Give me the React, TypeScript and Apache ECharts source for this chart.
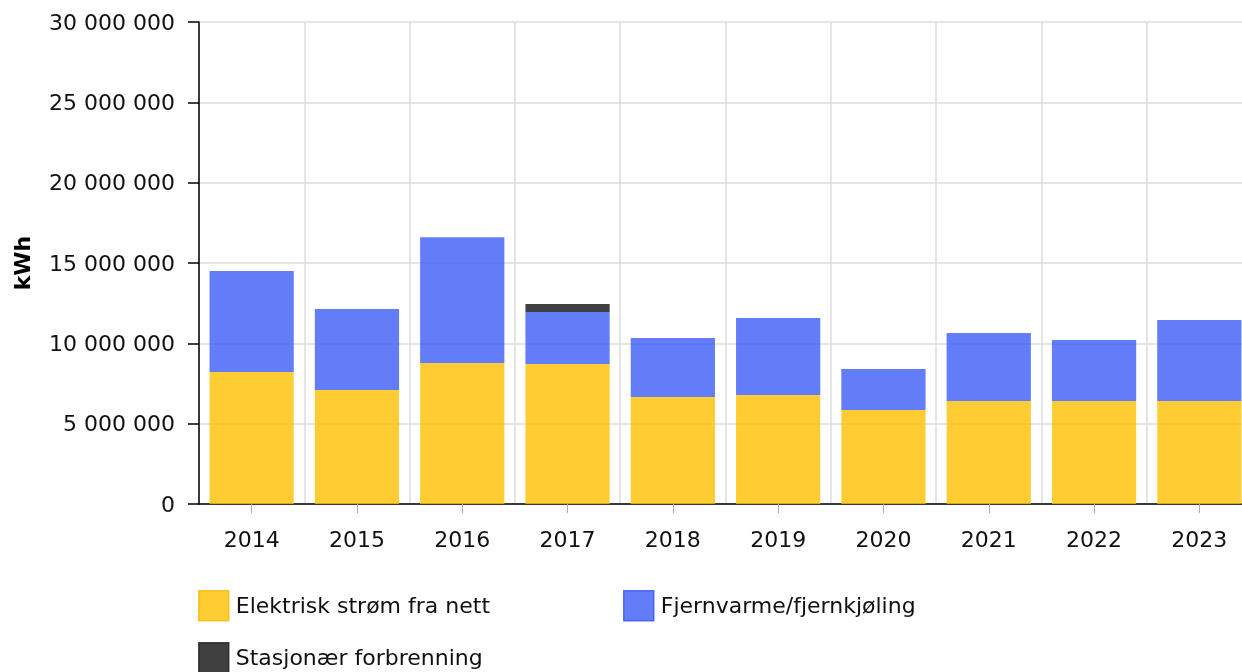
import React, { useEffect, useRef } from "react";
import * as echarts from "echarts";

const years = ["2014", "2015", "2016", "2017", "2018", "2019", "2020", "2021", "2022", "2023"];
const elektrisk = [8210000, 7090000, 8770000, 8710000, 6660000, 6780000, 5850000, 6410000, 6410000, 6410000];
const fjernvarme = [6290000, 5040000, 7840000, 3240000, 3670000, 4790000, 2550000, 4230000, 3800000, 5040000];
const stasjonaer = [0, 0, 0, 500000, 0, 0, 0, 0, 0, 0];
const seriesNames = ["Elektrisk strøm fra nett", "Fjernvarme/fjernkjøling", "Stasjonær forbrenning"];
const colors = ["#FFC000", "#3B5CF5", "#101010"];
const borderColors = ["#F5B800", "#3355EE", "#222222"];

const fmt = (v: number) => String(v).replace(/\B(?=(\d{3})+(?!\d))/g, " ");

export default function App() {
  const ref = useRef<HTMLDivElement>(null);
  useEffect(() => {
    if (!ref.current) return;
    const chart = echarts.init(ref.current, undefined, { renderer: "svg" });
    const font = "DejaVu Sans, Verdana, sans-serif";
    const dataSets = [elektrisk, fjernvarme, stasjonaer];
    const legendPos = [
      { left: 193, top: 585 },
      { left: 618, top: 585 },
      { left: 193, top: 637 },
    ];
    chart.setOption({
      animation: false,
      textStyle: { fontFamily: font },
      grid: { left: 199, top: 22, bottom: 168, right: -10, containLabel: false, outerBoundsMode: "none" },
      legend: seriesNames.map((n, i) => ({
        ...legendPos[i],
        orient: "horizontal",
        itemWidth: 30,
        itemHeight: 30,
        icon: "rect",
        itemGap: 10,
        textStyle: { fontSize: 22, color: "#111", fontFamily: font, padding: [0, 0, 0, 2] },
        data: [{ name: n, itemStyle: { color: colors[i], opacity: 0.8, borderColor: borderColors[i], borderWidth: 1.5 } }],
        selectedMode: false,
      })),
      xAxis: {
        type: "category",
        data: years,
        axisLine: { show: true, lineStyle: { color: "#000", width: 1.5 } },
        axisTick: { show: true, alignWithLabel: true, length: 9, lineStyle: { color: "#aaa" } },
        splitLine: { show: true, lineStyle: { color: "#ddd", width: 1.5 } },
        axisLabel: { fontSize: 22, color: "#111", margin: 24, fontFamily: font },
      },
      yAxis: {
        type: "value",
        min: 0,
        max: 30000000,
        interval: 5000000,
        name: "kWh",
        nameLocation: "middle",
        nameGap: 166,
        nameRotate: 90,
        nameTextStyle: { fontSize: 22, fontWeight: "bold", color: "#000", fontFamily: font },
        axisLine: { show: true, lineStyle: { color: "#000", width: 1.5 } },
        axisTick: { show: true, length: 11, lineStyle: { color: "#000", width: 1.5 } },
        splitLine: { show: true, lineStyle: { color: "#ddd", width: 1.5 } },
        axisLabel: { fontSize: 22, color: "#111", margin: 24, formatter: (v: number) => fmt(v), fontFamily: font },
      },
      series: seriesNames.map((n, i) => ({
        name: n,
        type: "bar",
        stack: "total",
        barCategoryGap: "20%",
        data: dataSets[i],
        itemStyle: { color: colors[i], opacity: 0.8 },
      })),
    });
    return () => chart.dispose();
  }, []);
  return <div ref={ref} style={{ position: "fixed", left: 0, top: 0, width: 1242, height: 672 }} />;
}
